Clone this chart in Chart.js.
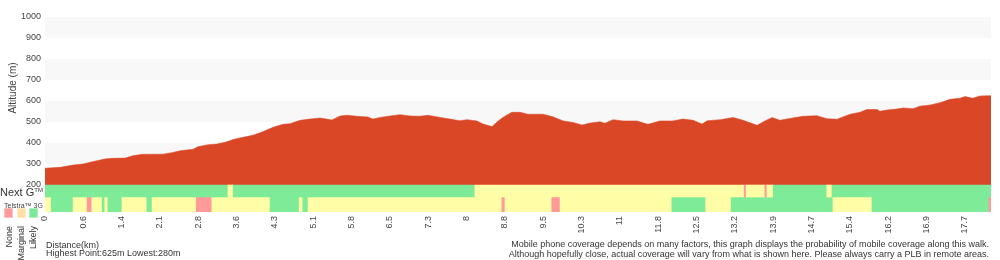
<!DOCTYPE html>
<html><head><meta charset="utf-8">
<script src="https://cdn.jsdelivr.net/npm/chart.js@4"></script>
<style>
html,body{margin:0;padding:0;background:#fff;}
#wrap{position:relative;width:1000px;height:260px;overflow:hidden;font-family:"Liberation Sans",Arial,Helvetica,sans-serif;color:#333;}
canvas{position:absolute;left:0;top:0;}
.t{position:absolute;white-space:nowrap;}
.rot{position:absolute;transform:rotate(-90deg);transform-origin:50% 50%;white-space:nowrap;}
.sw{position:absolute;width:7px;height:8px;border:1px solid;}
</style></head><body>
<div id="wrap">
<canvas id="c" width="1000" height="260"></canvas>
<div class="rot" style="left:-27px;top:81.5px;width:80px;height:12px;line-height:12px;font-size:10px;text-align:center;color:#444;">Altitude (m)</div>
<div class="t" style="left:0;top:187px;font-size:11px;line-height:11px;color:#333;">Next G<sup style="font-size:6px;vertical-align:4px;line-height:0;">TM</sup></div>
<div class="t" style="left:4px;top:201.5px;font-size:7px;line-height:7px;color:#444;">Telstra™ 3G</div>
<div class="sw" style="left:4px;top:208px;background:#ff9a9a;border-color:#ffc2c2;"></div>
<div class="sw" style="left:17px;top:208px;background:#ffdfa2;border-color:#ffecc6;"></div>
<div class="sw" style="left:29px;top:208px;background:#7de898;border-color:#b3f1c2;"></div>
<div class="rot" style="left:-11px;top:240px;width:40px;height:12px;line-height:12px;font-size:9px;text-align:right;">None</div>
<div class="rot" style="left:1px;top:240px;width:40px;height:12px;line-height:12px;font-size:9px;text-align:right;">Marginal</div>
<div class="rot" style="left:13px;top:240px;width:40px;height:12px;line-height:12px;font-size:9px;text-align:right;">Likely</div>
<div class="t" style="left:46px;top:240.5px;font-size:9px;line-height:9px;">Distance(km)</div>
<div class="t" style="left:46px;top:249px;font-size:9px;line-height:9px;">Highest Point:625m Lowest:280m</div>
<div class="t" style="right:11px;top:240px;font-size:9px;line-height:9.6px;text-align:right;">Mobile phone coverage depends on many factors, this graph displays the probability of mobile coverage along this walk.<br>Although hopefully close, actual coverage will vary from what is shown here. Please always carry a PLB in remote areas.</div>
</div>
<script>
// ---- data ----
const distanceKm = [0,0.29,0.54,0.73,0.87,1.15,1.29,1.54,1.69,1.87,2.27,2.44,2.60,2.85,2.94,3.14,3.31,3.50,3.62,3.81,4.00,4.19,4.39,4.58,4.71,4.91,5.10,5.29,5.44,5.52,5.68,5.81,6.00,6.21,6.31,6.45,6.64,6.83,7.02,7.21,7.37,7.60,7.79,7.98,8.12,8.31,8.43,8.60,8.70,8.81,8.98,9.14,9.29,9.58,9.77,9.97,10.16,10.33,10.49,10.68,10.77,10.93,11.12,11.39,11.60,11.83,12.08,12.27,12.47,12.64,12.74,12.99,13.24,13.43,13.70,13.85,13.99,14.14,14.33,14.58,14.85,15.04,15.24,15.35,15.49,15.68,15.81,16.01,16.06,16.20,16.39,16.51,16.70,16.83,17.03,17.22,17.41,17.60,17.70,17.85,17.99,18.14,18.20];
const altitudeM = [280,284,295,300,308,324,327,328,339,346,347,354,363,370,382,392,395,406,417,427,437,454,475,489,492,508,514,519,513,510,529,532,527,524,514,522,529,535,529,527,532,522,514,506,511,505,490,478,501,522,546,546,537,537,525,505,498,486,495,501,494,511,505,505,489,505,505,514,508,490,506,511,521,508,484,505,521,508,517,527,530,516,513,524,537,546,559,560,551,557,562,567,563,575,581,592,608,613,621,613,624,625,625];
const xTickLabels = ['0','0.6','1.4','2.1','2.8','3.6','4.3','5.1','5.8','6.5','7.3','8','8.8','9.5','10.3','11','11.8','12.5','13.2','13.9','14.7','15.4','16.2','16.9','17.7'];
const altitudeTicks = [200,300,400,500,600,700,800,900,1000];
// coverage runs: boundaries (km) and level of each run (N=None, M=Marginal, L=Likely)
const nextGBreaks = [0,3.52,3.62,8.27,13.45,13.49,13.85,13.89,14.01,15.04,15.14,18.2];
const nextGLevels = ['L','M','L','M','N','M','N','M','L','M','L'];
const g3Breaks = [0,0.12,0.54,0.81,0.90,1.10,1.15,1.21,1.48,1.96,2.06,2.91,3.21,4.33,4.89,4.96,5.06,8.79,8.85,9.75,9.91,12.06,12.71,13.20,15.16,15.91,18.16,18.2];
const g3Levels = ['M','L','M','N','M','L','M','L','M','L','M','N','M','L','M','L','M','N','M','N','M','L','M','L','M','L','N'];

// ---- styles ----
const DIST_MAX = 18.2;
const X_TICK_STEP = 0.7375;
const LEVEL_COLORS = {N:'#ff9a9a', M:'#fffda6', L:'#7deb98'};
const FILL_COLOR = '#da4727';
const BAND_COLOR = '#f8f8f8';
const NEXTG_ROW = 171.4, G3_ROW = 107.1;

function runs(breaks, levels, row){
  return levels.map((lv,i)=>({x:[breaks[i], breaks[i+1]], y:row}));
}

const bands = {
  id:'bands',
  beforeDatasetsDraw(chart){
    const {ctx, chartArea:a, scales:{y}} = chart;
    ctx.save(); ctx.fillStyle = BAND_COLOR;
    for (let j=0;j<altitudeTicks.length-1;j++){
      if (j%2===1){
        const top = y.getPixelForValue(altitudeTicks[j+1]);
        const bot = y.getPixelForValue(altitudeTicks[j]);
        ctx.fillRect(a.left, top, a.right-a.left, bot-top);
      }
    }
    ctx.restore();
  }
};

const tickFont = {family:'"Liberation Sans", Arial, sans-serif', size:9};

new Chart(document.getElementById('c'), {
  type:'line',
  data:{
    datasets:[
      {
        type:'line',
        data: distanceKm.map((d,i)=>({x:d, y:altitudeM[i]})),
        borderColor:'rgba(218,71,39,0.55)', borderWidth:1,
        backgroundColor: FILL_COLOR,
        fill:{value:200}, pointRadius:0, tension:0, order:2
      },
      {
        type:'bar', indexAxis:'y', grouped:false,
        data: runs(nextGBreaks, nextGLevels, NEXTG_ROW),
        backgroundColor: nextGLevels.map(l=>LEVEL_COLORS[l]),
        barThickness:12, borderWidth:0, borderSkipped:false, order:1
      },
      {
        type:'bar', indexAxis:'y', grouped:false,
        data: runs(g3Breaks, g3Levels, G3_ROW),
        backgroundColor: g3Levels.map(l=>LEVEL_COLORS[l]),
        barThickness:15, borderWidth:0, borderSkipped:false, order:1
      }
    ]
  },
  options:{
    responsive:false, animation:false, events:[],
    layout:{padding:{top:17,right:9,left:0,bottom:0}},
    plugins:{legend:{display:false}, tooltip:{enabled:false}},
    scales:{
      x:{
        type:'linear', min:0, max:DIST_MAX, offset:false,
        grid:{display:false, drawTicks:false, offset:false}, border:{display:false},
        afterBuildTicks(s){ s.ticks = xTickLabels.map((_,k)=>({value:k*X_TICK_STEP})); },
        afterFit(s){ s.height = 48; },
        ticks:{autoSkip:false, minRotation:90, maxRotation:90, padding:4, color:'#444', font:tickFont,
          callback:(v,i)=>xTickLabels[i]}
      },
      y:{
        type:'linear', min:71.4, max:1000, offset:false, beginAtZero:false,
        grid:{display:false, drawTicks:false, offset:false}, border:{display:false},
        afterBuildTicks(s){ s.ticks = altitudeTicks.map(v=>({value:v})); },
        afterFit(s){ s.width = 45; },
        ticks:{padding:4, color:'#444', font:tickFont, callback:v=>String(v)}
      }
    }
  },
  plugins:[bands]
});
</script>
</body></html>
